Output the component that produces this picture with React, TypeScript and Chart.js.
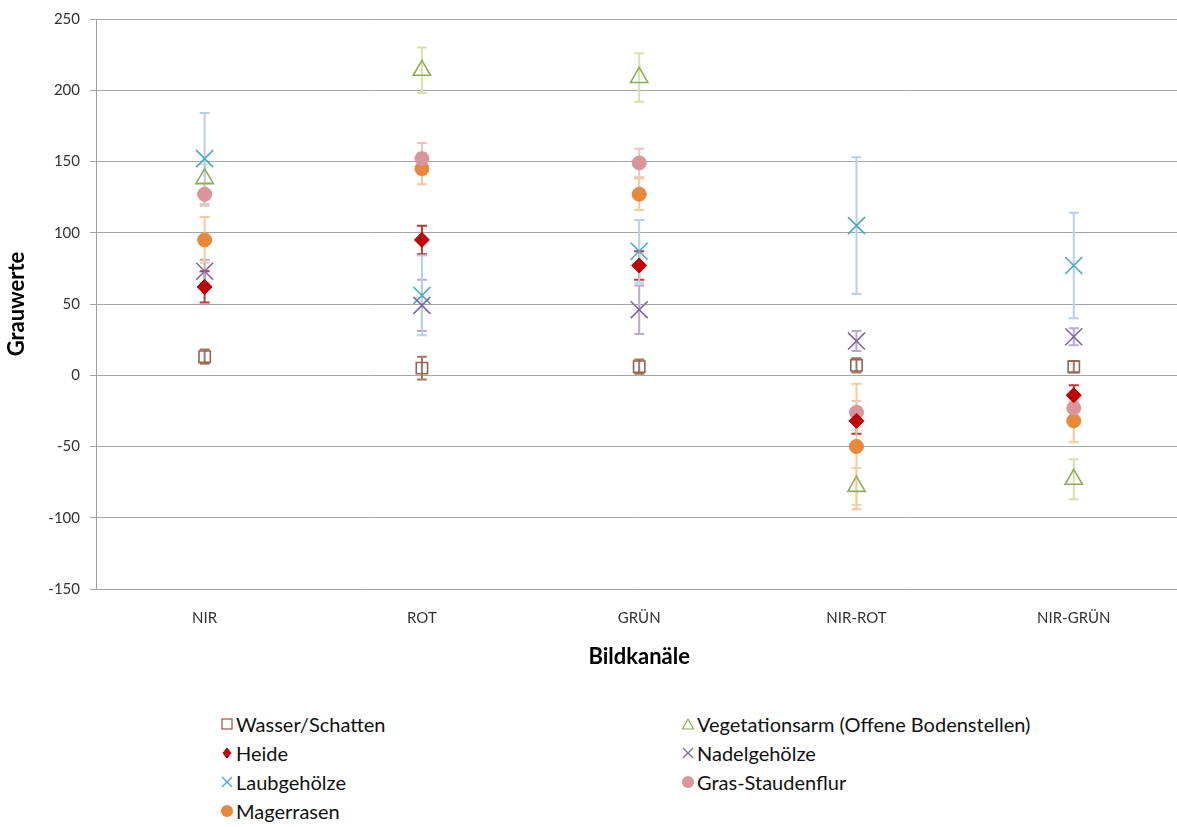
import React, { useEffect, useRef } from 'react';
import { Chart, registerables } from 'chart.js';

Chart.register(...registerables);

const categories = ['NIR', 'ROT', 'GRÜN', 'NIR-ROT', 'NIR-GRÜN'];

const wasser = [13, 5, 6, 7, 6];
const wasserErr = [5, 8, 5, 5, 4];
const vegetationsarm = [138, 214, 209, -78, -73];
const vegetationsarmErr = [10, 16, 17, 13, 14];
const heide = [62, 95, 77, -32, -14];
const heideErr = [11, 10, 10, 9, 7];
const nadel = [73, 49, 46, 24, 27];
const nadelErr = [8, 18, 17, 7, 6];
const laub = [152, 56, 87, 105, 77];
const laubErr = [32, 28, 22, 48, 37];
const gras = [127, 152, 149, -26, -23];
const grasErr = [8, 11, 10, 8, 5];
const mager = [95, 145, 127, -50, -32];
const magerErr = [16, 11, 11, 44, 15];

const yTicks = [-150, -100, -50, 0, 50, 100, 150, 200, 250];

const FONT = 'Lato, "Open Sans", sans-serif';

const COL = {
  wasser: '#96634d',
  wasserErr: '#a07a66',
  veg: '#8fac58',
  vegErr: '#d6e2aa',
  heide: '#c00000',
  heideErr: '#c3333a',
  nadel: '#7f66a3',
  nadelErr: '#b8aad0',
  laub: '#4aa9c2',
  laubErr: '#b9cfe6',
  gras: '#d9959a',
  grasErr: '#ecc3c3',
  mager: '#e8883a',
  magerErr: '#f9c89c',
};

const errorBarPlugin = {
  id: 'errorBars',
  beforeDatasetsDraw(chart: any) {
    const ctx = chart.ctx;
    const xs = chart.scales.x;
    const ys = chart.scales.y;
    chart.data.datasets.forEach((ds: any) => {
      const errs = ds.errors;
      if (!errs) return;
      ctx.save();
      ctx.strokeStyle = ds.errorColor;
      ctx.lineWidth = 2;
      ds.data.forEach((v: number, i: number) => {
        const px = xs.getPixelForValue(i);
        const top = ys.getPixelForValue(v + errs[i]);
        const bot = ys.getPixelForValue(v - errs[i]);
        ctx.beginPath();
        ctx.moveTo(px, top);
        ctx.lineTo(px, bot);
        ctx.moveTo(px - 5, top);
        ctx.lineTo(px + 5, top);
        ctx.moveTo(px - 5, bot);
        ctx.lineTo(px + 5, bot);
        ctx.stroke();
      });
      ctx.restore();
    });
  },
};

const legendItems = [
  { label: 'Wasser/Schatten', marker: 'square', color: '#a55a4e', col: 0, row: 0 },
  { label: 'Vegetationsarm (Offene Bodenstellen)', marker: 'triangle', color: COL.veg, col: 1, row: 0 },
  { label: 'Heide', marker: 'diamond', color: COL.heide, col: 0, row: 1 },
  { label: 'Nadelgehölze', marker: 'x', color: COL.nadel, col: 1, row: 1 },
  { label: 'Laubgehölze', marker: 'x', color: COL.laub, col: 0, row: 2 },
  { label: 'Gras-Staudenflur', marker: 'circle', color: COL.gras, col: 1, row: 2 },
  { label: 'Magerrasen', marker: 'circle', color: COL.mager, col: 0, row: 3 },
];

function Marker({ kind, color }: { kind: string; color: string }) {
  const s = 14;
  let shape: any = null;
  if (kind === 'square') shape = <rect x={2} y={2} width={10} height={10} fill="none" stroke={color} strokeWidth={1.3} />;
  else if (kind === 'triangle') shape = <polygon points="7,2 12.5,12 1.5,12" fill="none" stroke={color} strokeWidth={1.2} />;
  else if (kind === 'diamond') shape = <polygon points="7,2 11,7 7,12 3,7" fill={color} stroke={color} strokeWidth={1} />;
  else if (kind === 'x') shape = (
    <g stroke={color} strokeWidth={1.2}>
      <line x1={2} y1={2} x2={12} y2={12} />
      <line x1={12} y1={2} x2={2} y2={12} />
    </g>
  );
  else if (kind === 'circle') shape = <circle cx={7} cy={7} r={6} fill={color} />;
  return (
    <svg width={s} height={s} style={{ display: 'block' }}>
      {shape}
    </svg>
  );
}

export default function App() {
  const canvasRef = useRef<HTMLCanvasElement | null>(null);

  useEffect(() => {
    const canvas = canvasRef.current;
    if (!canvas) return;
    const mk = (label: string, data: number[], errors: number[], errorColor: string, extra: any) => ({
      label,
      data,
      errors,
      errorColor,
      showLine: false,
      ...extra,
    });
    const chart = new Chart(canvas, {
      type: 'line',
      data: {
        labels: categories,
        datasets: [
          mk('Wasser/Schatten', wasser, wasserErr, COL.wasserErr, {
            pointStyle: 'rect', pointRadius: 8, pointBackgroundColor: 'rgba(0,0,0,0)', pointBorderColor: COL.wasser, pointBorderWidth: 1.6, borderColor: COL.wasser,
          }),
          mk('Vegetationsarm (Offene Bodenstellen)', vegetationsarm, vegetationsarmErr, COL.vegErr, {
            pointStyle: 'triangle', pointRadius: 10, pointBackgroundColor: 'rgba(0,0,0,0)', pointBorderColor: COL.veg, pointBorderWidth: 1.6, borderColor: COL.veg,
          }),
          mk('Heide', heide, heideErr, COL.heideErr, {
            pointStyle: 'rectRot', pointRadius: 7.5, pointBackgroundColor: COL.heide, pointBorderColor: COL.heide, pointBorderWidth: 1, borderColor: COL.heide,
          }),
          mk('Nadelgehölze', nadel, nadelErr, COL.nadelErr, {
            pointStyle: 'crossRot', pointRadius: 12, pointBorderColor: COL.nadel, pointBorderWidth: 1.6, borderColor: COL.nadel,
          }),
          mk('Laubgehölze', laub, laubErr, COL.laubErr, {
            pointStyle: 'crossRot', pointRadius: 12, pointBorderColor: COL.laub, pointBorderWidth: 1.6, borderColor: COL.laub,
          }),
          mk('Gras-Staudenflur', gras, grasErr, COL.grasErr, {
            pointStyle: 'circle', pointRadius: 7, pointBackgroundColor: COL.gras, pointBorderColor: COL.gras, pointBorderWidth: 1, borderColor: COL.gras,
          }),
          mk('Magerrasen', mager, magerErr, COL.magerErr, {
            pointStyle: 'circle', pointRadius: 7, pointBackgroundColor: COL.mager, pointBorderColor: COL.mager, pointBorderWidth: 1, borderColor: COL.mager,
          }),
        ],
      },
      options: {
        animation: false,
        responsive: false,
        maintainAspectRatio: false,
        layout: { padding: { top: 19, left: 0, right: 0, bottom: 0 } },
        plugins: {
          legend: { display: false },
          tooltip: { enabled: false },
        },
        scales: {
          x: {
            type: 'category',
            offset: true,
            grid: { display: false, drawTicks: false },
            border: { display: true, color: '#a0a0a0', width: 1 },
            ticks: { font: { family: FONT, size: 15 }, color: '#333333', padding: 20 },
            title: {
              display: true,
              text: 'Bildkanäle',
              font: { family: FONT, size: 22, weight: 'bold' },
              color: '#000000',
              padding: { top: 4, bottom: 10 },
            },
            afterFit(scale: any) {
              scale.height = 91;
            },
          },
          y: {
            min: -150,
            max: 250,
            afterBuildTicks(scale: any) {
              scale.ticks = yTicks.map((v) => ({ value: v }));
            },
            grid: { color: '#a6a6a6', lineWidth: 1, drawTicks: true, tickLength: 6 },
            border: { display: true, color: '#a0a0a0', width: 1 },
            ticks: { font: { family: FONT, size: 15 }, color: '#333333', padding: 10 },
            title: {
              display: true,
              text: 'Grauwerte',
              font: { family: FONT, size: 22, weight: 'bold' },
              color: '#000000',
              padding: { top: 4, bottom: 0 },
            },
            afterFit(scale: any) {
              scale.width = 96;
            },
          },
        },
      } as any,
      plugins: [errorBarPlugin],
    });
    return () => chart.destroy();
  }, []);

  return (
    <div style={{ position: 'absolute', left: 0, top: 0, width: 1177, height: 827, overflow: 'hidden', background: '#ffffff' }}>
      <canvas ref={canvasRef} width={1196} height={680} style={{ position: 'absolute', left: 0, top: 0, width: 1196, height: 680 }} />
      {legendItems.map((it) => (
        <div
          key={it.label}
          style={{
            position: 'absolute',
            left: it.col === 0 ? 220 : 681,
            top: 724 + it.row * 29 - 12,
            height: 24,
            display: 'flex',
            alignItems: 'center',
            fontFamily: FONT,
            fontSize: 20,
            color: '#111111',
            whiteSpace: 'nowrap',
          }}
        >
          <Marker kind={it.marker} color={it.color} />
          <span style={{ marginLeft: 2 }}>{it.label}</span>
        </div>
      ))}
    </div>
  );
}
